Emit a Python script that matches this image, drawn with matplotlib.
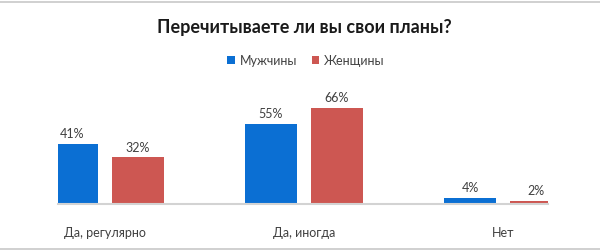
import matplotlib.pyplot as plt
import numpy as np
from matplotlib.lines import Line2D

categories = ["Да, регулярно", "Да, иногда", "Нет"]
men = [41, 55, 4]
women = [32, 66, 2]
series_names = ["Мужчины", "Женщины"]

BLUE = "#0b6fd3"
RED = "#cd5752"
TEXT = "#404040"

plt.rcParams["font.family"] = ["Lato", "DejaVu Sans"]

W, H = 600, 253
fig = plt.figure(figsize=(W / 100, H / 100), dpi=100)

# axes placed so the baseline sits at y=205px and spans x=58..548px
ymax = 75
px_per_unit = 96 / 66
ax_h = ymax * px_per_unit
ax = fig.add_axes([58 / W, 48 / H, 490 / W, ax_h / H])

x = np.arange(len(categories))
off, width = 0.166, 0.261
b1 = ax.bar(x - off, men, width, color=BLUE, label=series_names[0])
b2 = ax.bar(x + off, women, width, color=RED, label=series_names[1])

for bars, vals in ((b1, men), (b2, women)):
    for rect, v in zip(bars, vals):
        ax.text(rect.get_x() + rect.get_width() / 2, v + 7.5, f"{v}%",
                ha="center", va="center", fontsize=9, color=TEXT, clip_on=False)

ax.set_xlim((58 - 105) / 199, (548 - 105) / 199)
ax.set_ylim(0, ymax)
for s in ("top", "right", "left"):
    ax.spines[s].set_visible(False)
ax.spines["bottom"].set_color("#d3d3d3")
ax.spines["bottom"].set_linewidth(1.5)
ax.set_yticks([])
ax.set_xticks(x)
ax.set_xticklabels(categories, fontsize=9, color=TEXT)
ax.tick_params(axis="x", length=0, pad=16)

fig.text(0.508, 1 - 28 / H, "Перечитываете ли вы свои планы?", ha="center", va="center",
         fontsize=13, fontweight="bold", color="#1a1a1a")
fig.legend(handles=[b1, b2], loc="center", bbox_to_anchor=(0.51, 1 - 61 / H), ncol=2,
           frameon=False, fontsize=9, handlelength=0.6, handleheight=0.6,
           handletextpad=0.4, columnspacing=1.2, labelcolor=TEXT)

# thin grey border lines at top and bottom of the picture
fig.add_artist(Line2D([0, 1], [1 - 2.5 / H, 1 - 2.5 / H], color="#c8c8c8", lw=1.2, transform=fig.transFigure))
fig.add_artist(Line2D([0, 1], [3 / H, 3 / H], color="#c8c8c8", lw=1.2, transform=fig.transFigure))

fig.savefig("out.png", dpi=100)
